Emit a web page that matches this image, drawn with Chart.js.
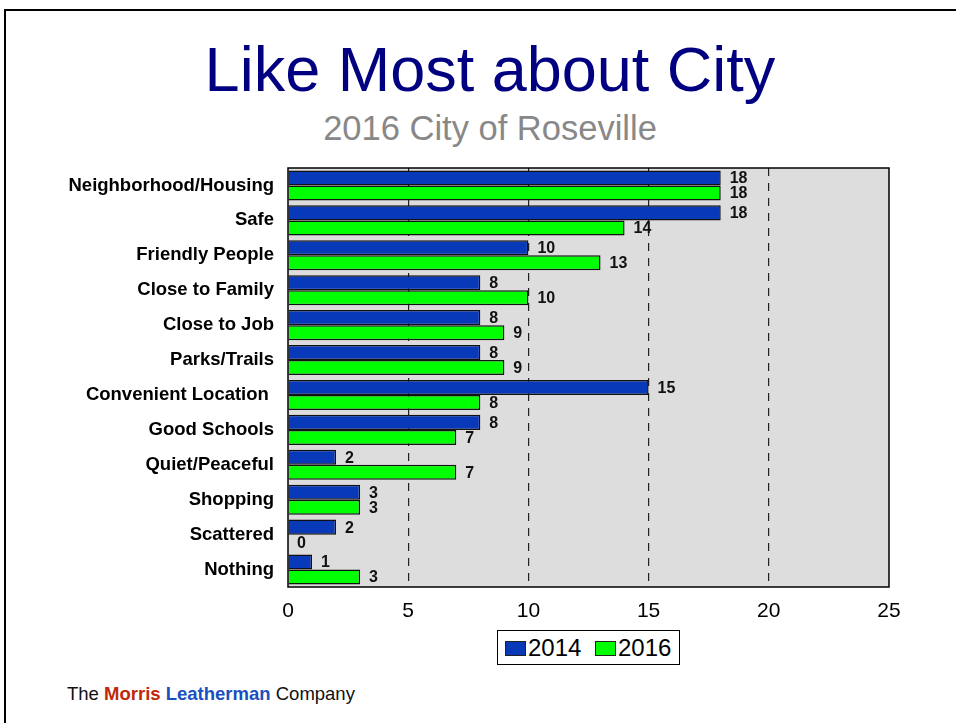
<!DOCTYPE html>
<html>
<head>
<meta charset="utf-8">
<script src="https://cdn.jsdelivr.net/npm/chart.js@4"></script>
<style>
  body { margin: 0; background: #fff; font-family: Arial, "Liberation Sans", sans-serif; }
  #page { position: relative; width: 956px; height: 723px; overflow: hidden; }
  #frame { position: absolute; left: 4px; top: 9px; width: 1000px; height: 800px; border-left: 2px solid #000; border-top: 2px solid #000; }
  #title { position: absolute; left: 0; width: 980px; top: 34px; text-align: center; font-size: 63px; color: #000080; line-height: 70px; }
  #subtitle { position: absolute; left: 0; width: 980px; top: 108px; text-align: center; font-size: 34.5px; color: #888; line-height: 40px; }
  #chart { position: absolute; left: 0; top: 150px; }
  #legend { position: absolute; left: 497px; top: 630px; width: 183px; height: 35px; border: 1px solid #000; box-sizing: border-box; font-size: 24px; }
  #legend .item { position: absolute; top: 3px; display: flex; align-items: center; height: 28px; }
  #legend .sw { width: 19px; height: 13px; border: 1px solid #222; margin-right: 2px; }
  #footer { position: absolute; left: 67px; top: 683px; font-size: 18.5px; color: #111; }
  #footer .m { color: #c0280a; font-weight: bold; }
  #footer .l { color: #1a4fc0; font-weight: bold; }
</style>
</head>
<body>
<div id="page">
  <div id="frame"></div>
  <div id="title">Like Most about City</div>
  <div id="subtitle">2016 City of Roseville</div>
  <canvas id="chart" width="956" height="480"></canvas>
  <div id="legend"></div>
  <div id="footer">The <span class="m">Morris</span> <span class="l">Leatherman</span> Company</div>
</div>
<script>
const categories = ["Neighborhood/Housing", "Safe", "Friendly People", "Close to Family", "Close to Job",
  "Parks/Trails", "Convenient Location ", "Good Schools", "Quiet/Peaceful", "Shopping", "Scattered", "Nothing"];
const values2014 = [18, 18, 10, 8, 8, 8, 15, 8, 2, 3, 2, 1];
const values2016 = [18, 14, 13, 10, 9, 9, 8, 7, 7, 3, 0, 3];
const xTicks = [0, 5, 10, 15, 20, 25];

const blue = "#0839b8";
const green = "#00ff00";

// plot background, frame and value labels
const plotDecor = {
  id: "plotDecor",
  beforeDraw(chart) {
    const a = chart.chartArea, ctx = chart.ctx;
    ctx.save();
    ctx.fillStyle = "#dddddd";
    ctx.fillRect(a.left, a.top, a.right - a.left, a.bottom - a.top);
    ctx.restore();
  },
  afterDatasetsDraw(chart) {
    const a = chart.chartArea, ctx = chart.ctx;
    ctx.save();
    ctx.font = "bold 16px Arial, 'Liberation Sans', sans-serif";
    ctx.fillStyle = "#111";
    ctx.textBaseline = "middle";
    ctx.textAlign = "left";
    chart.data.datasets.forEach((ds, di) => {
      chart.getDatasetMeta(di).data.forEach((bar, i) => {
        ctx.fillText(String(ds.data[i]), bar.x + 9, bar.y + 1);
      });
    });
    ctx.strokeStyle = "#000";
    ctx.lineWidth = 1.5;
    ctx.strokeRect(a.left, a.top, a.right - a.left, a.bottom - a.top);
    ctx.restore();
  }
};

const chart = new Chart(document.getElementById("chart"), {
  type: "bar",
  data: {
    labels: categories,
    datasets: [
      { label: "2014", data: values2014, backgroundColor: blue, borderColor: "#111", borderWidth: 1.5 },
      { label: "2016", data: values2016, backgroundColor: green, borderColor: "#111", borderWidth: 1.5 }
    ]
  },
  options: {
    indexAxis: "y",
    responsive: false,
    animation: false,
    layout: { padding: { top: 18, right: 67, bottom: 3, left: 0 } },
    datasets: { bar: { categoryPercentage: 0.86, barPercentage: 1.0 } },
    plugins: { legend: { display: false }, tooltip: { enabled: false } },
    scales: {
      x: {
        min: 0, max: 25,
        afterBuildTicks: (axis) => { axis.ticks = xTicks.map(v => ({ value: v })); },
        afterFit: (axis) => { axis.height = 40; axis.paddingLeft = 0; axis.paddingRight = 0; },
        border: { display: false },
        grid: {
          drawTicks: false,
          color: (c) => (c.tick && c.tick.value > 0 && c.tick.value < 25) ? "#222" : "rgba(0,0,0,0)",
          lineWidth: 1.2
        },
        ticks: { color: "#000", padding: 12, font: { family: "Arial, 'Liberation Sans', sans-serif", size: 21 } }
      },
      y: {
        afterFit: (axis) => { axis.width = 288; axis.paddingTop = 0; axis.paddingBottom = 0; },
        border: { display: false },
        grid: { display: false, drawTicks: false },
        ticks: { color: "#000", padding: 14, font: { family: "Arial, 'Liberation Sans', sans-serif", size: 18.5, weight: "bold" } }
      }
    }
  },
  plugins: [plotDecor]
});
chart.options.scales.x.grid.borderDash = [8, 7];
chart.options.scales.x.border.dash = [8, 7];
chart.update();

// legend built from datasets
const legend = document.getElementById("legend");
const legendX = [7, 97];
chart.data.datasets.forEach((ds, i) => {
  const item = document.createElement("div");
  item.className = "item";
  item.style.left = legendX[i] + "px";
  const sw = document.createElement("div");
  sw.className = "sw";
  sw.style.background = ds.backgroundColor;
  item.appendChild(sw);
  item.appendChild(document.createTextNode(ds.label));
  legend.appendChild(item);
});
</script>
</body>
</html>
